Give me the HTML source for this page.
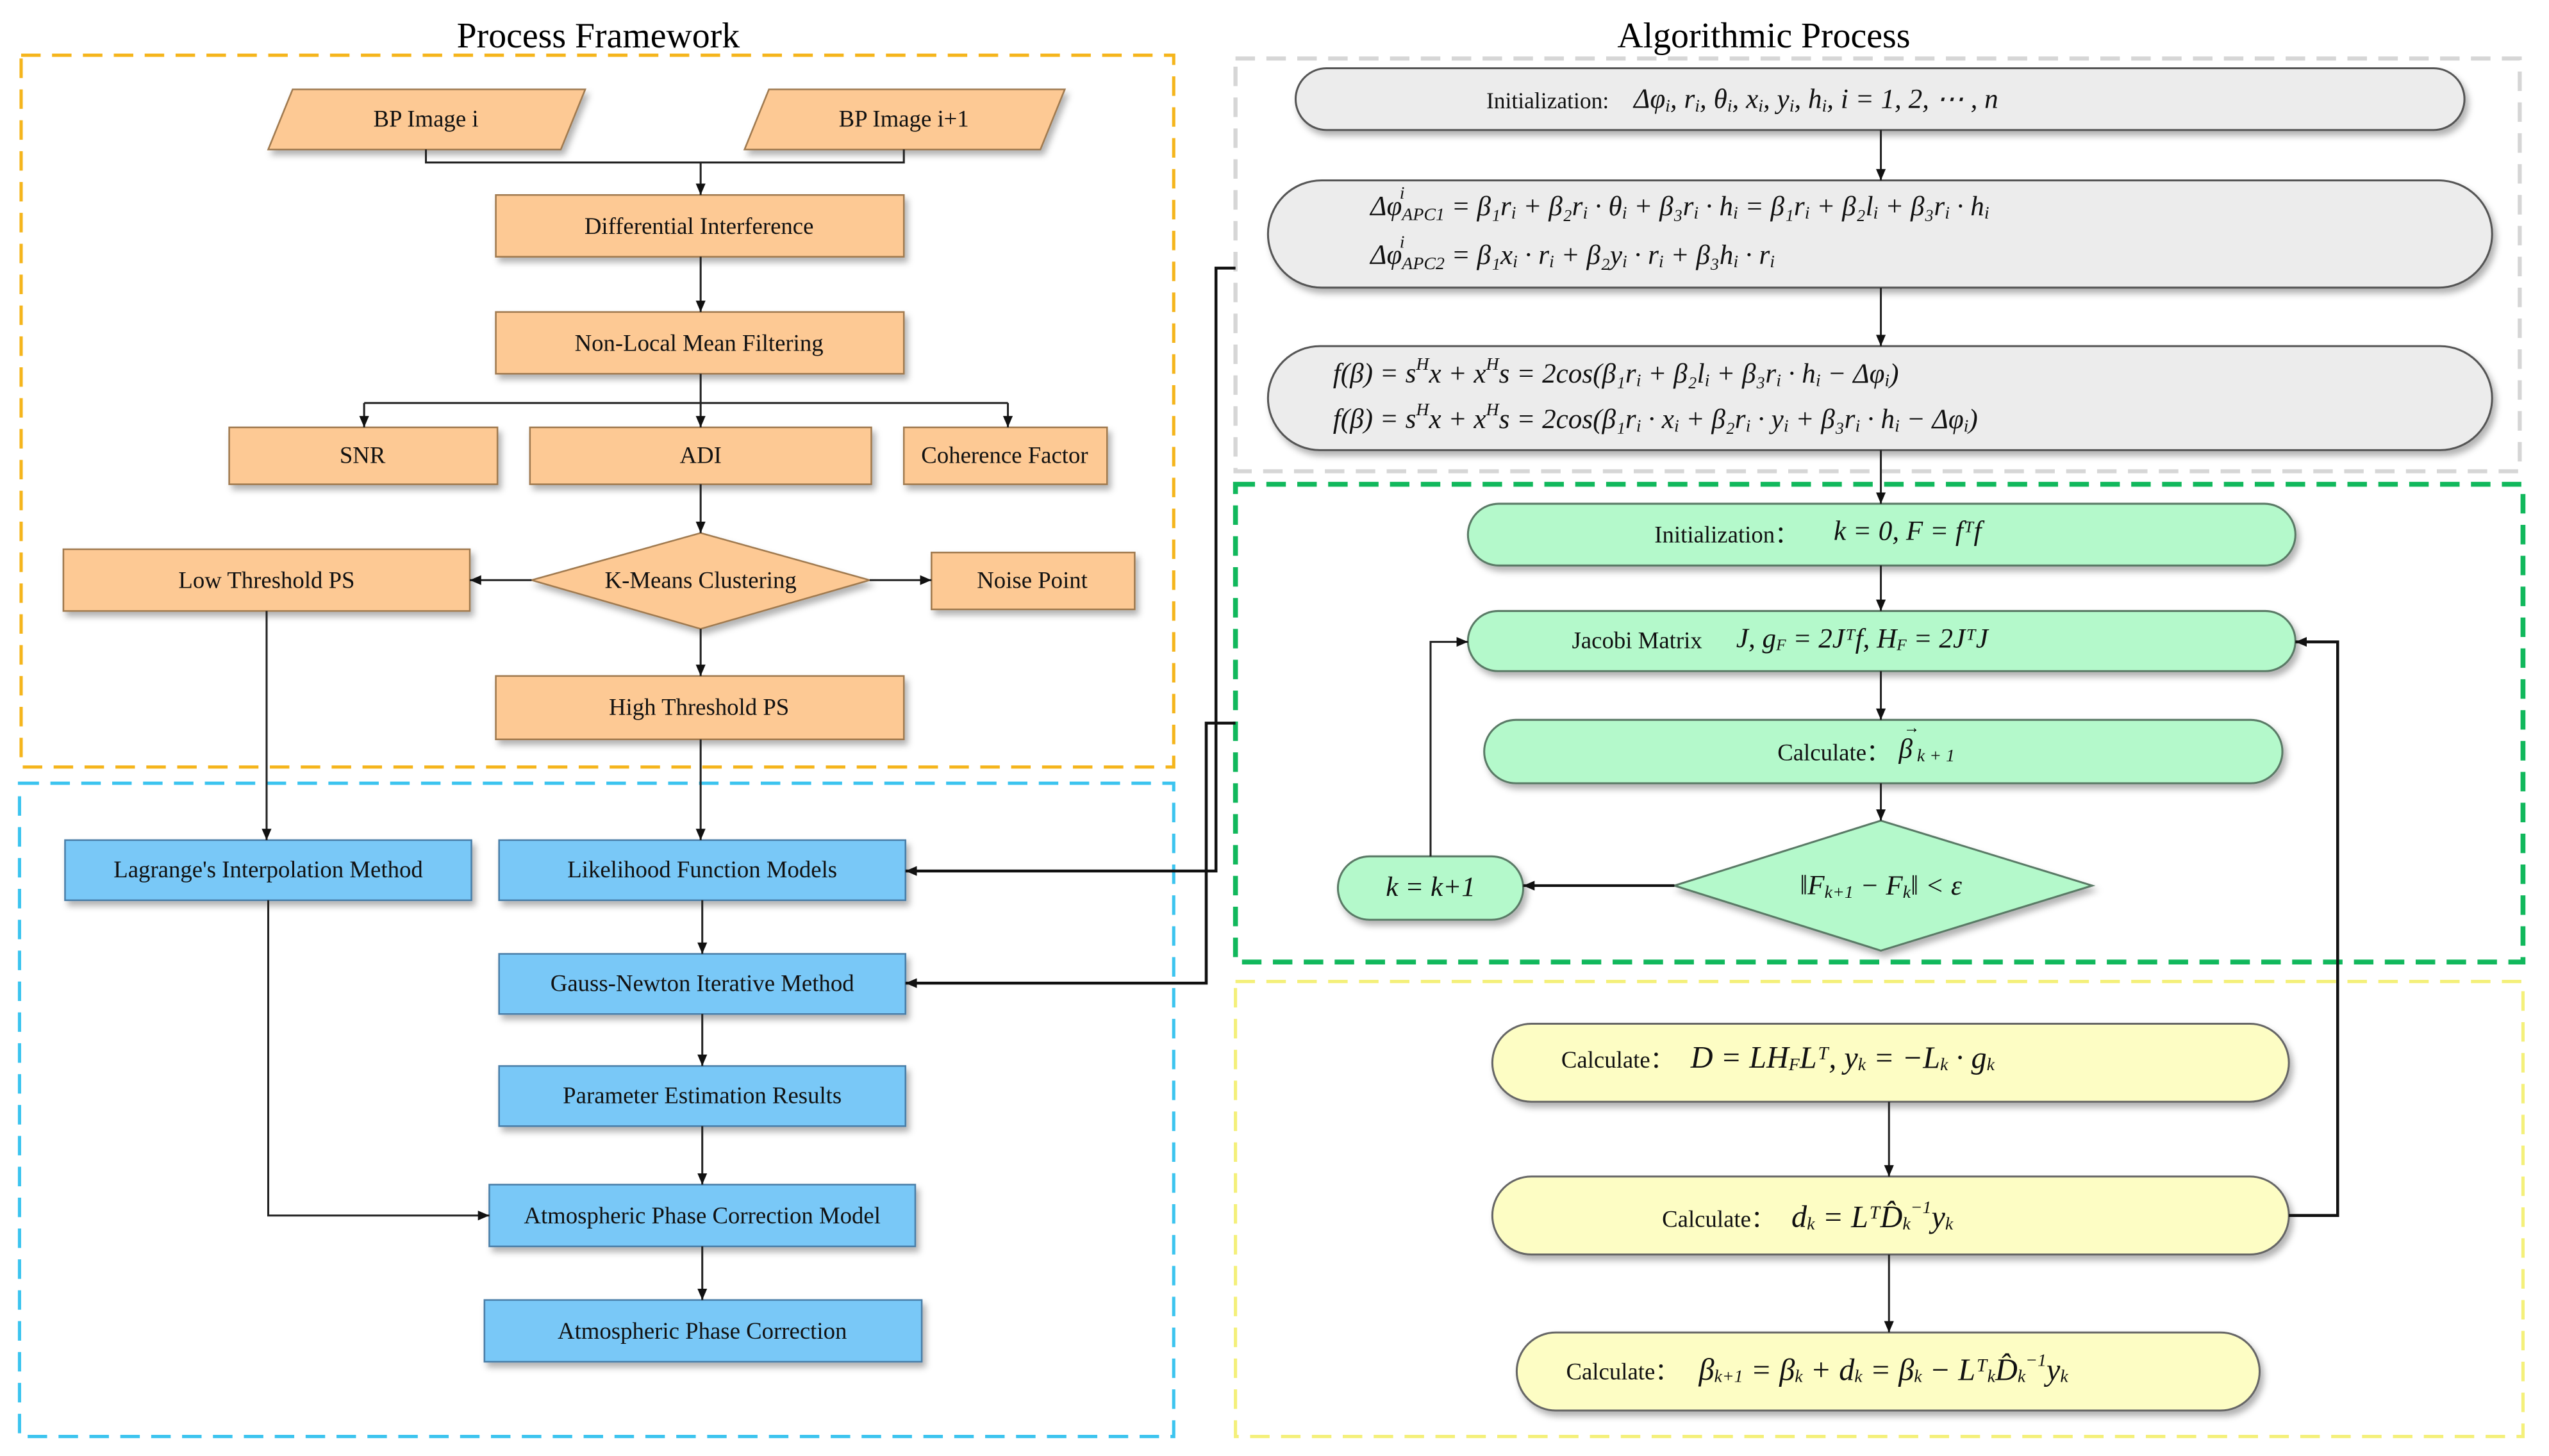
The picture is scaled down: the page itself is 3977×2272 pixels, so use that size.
<!DOCTYPE html>
<html><head><meta charset="utf-8"><style>
html,body{margin:0;padding:0;background:#fff;}
svg{display:block;}
text{font-family:"Liberation Serif",serif;}
.t{font-size:14.5px;fill:#111;text-anchor:middle;dominant-baseline:central;}
.m{font-size:17px;fill:#111;font-style:italic;dominant-baseline:central;}
.ln{stroke:#222;stroke-width:1.2;fill:none;}
</style></head><body>
<svg width="3977" height="2272" viewBox="0 0 1568 896" preserveAspectRatio="none" xmlns="http://www.w3.org/2000/svg">
<defs>
<marker id="a" markerWidth="8" markerHeight="8" refX="7" refY="4" orient="auto" markerUnits="userSpaceOnUse"><path d="M0,1 L7,4 L0,7 z" fill="#111"/></marker>
<filter id="sh" x="-5%" y="-20%" width="110%" height="150%"><feDropShadow dx="2" dy="3" stdDeviation="2" flood-color="#000" flood-opacity="0.3"/></filter>
</defs>
<rect width="1568" height="896" fill="#fff"/>
<text x="368" y="22" style="font-size:22px" text-anchor="middle" dominant-baseline="central">Process Framework</text>
<text x="1085" y="22" style="font-size:22px" text-anchor="middle" dominant-baseline="central">Algorithmic Process</text>
<rect x="13" y="34" width="709" height="438" fill="none" stroke="#f5b51c" stroke-width="2" stroke-dasharray="12,7"/>
<rect x="12" y="482" width="710" height="402" fill="none" stroke="#3cc4ef" stroke-width="2" stroke-dasharray="12,7"/>
<rect x="760" y="36" width="790" height="254" fill="none" stroke="#d6d6d6" stroke-width="2.5" stroke-dasharray="12,7"/>
<rect x="760" y="604" width="792" height="280" fill="none" stroke="#f4f07a" stroke-width="2" stroke-dasharray="12,7"/>
<rect x="760" y="298" width="792" height="294" fill="none" stroke="#11b85c" stroke-width="3" stroke-dasharray="12,7"/>

<g filter="url(#sh)" stroke="#a07a50" stroke-width="1" fill="#fdc994">
<polygon points="180,55 360,55 345,92 165,92"/>
<polygon points="473,55 655,55 640,92 458,92"/>
<rect x="305" y="120" width="251" height="38"/>
<rect x="305" y="192" width="251" height="38"/>
<rect x="141" y="263" width="165" height="35"/>
<rect x="326" y="263" width="210" height="35"/>
<rect x="556" y="263" width="125" height="35"/>
<polygon points="327,357 431,328 535,357 431,387"/>
<rect x="39" y="338" width="250" height="38"/>
<rect x="573" y="340" width="125" height="35"/>
<rect x="305" y="416" width="251" height="39"/>
</g>
<g filter="url(#sh)" stroke="#4a7ea8" stroke-width="1" fill="#79c8f7">
<rect x="40" y="517" width="250" height="37"/>
<rect x="307" y="517" width="250" height="37"/>
<rect x="307" y="587" width="250" height="37"/>
<rect x="307" y="656" width="250" height="37"/>
<rect x="301" y="729" width="262" height="38"/>
<rect x="298" y="800" width="269" height="38"/>
</g>
<text x="262" y="73" class="t">BP Image i</text>
<text x="556" y="73" class="t">BP Image i+1</text>
<text x="430" y="139" class="t">Differential Interference</text>
<text x="430" y="211" class="t">Non-Local Mean Filtering</text>
<text x="223" y="280" class="t">SNR</text>
<text x="431" y="280" class="t">ADI</text>
<text x="618" y="280" class="t">Coherence Factor</text>
<text x="431" y="357" class="t">K-Means Clustering</text>
<text x="164" y="357" class="t">Low Threshold PS</text>
<text x="635" y="357" class="t">Noise Point</text>
<text x="430" y="435" class="t">High Threshold PS</text>
<text x="165" y="535" class="t">Lagrange's Interpolation Method</text>
<text x="432" y="535" class="t">Likelihood Function Models</text>
<text x="432" y="605" class="t">Gauss-Newton Iterative Method</text>
<text x="432" y="674" class="t">Parameter Estimation Results</text>
<text x="432" y="748" class="t">Atmospheric Phase Correction Model</text>
<text x="432" y="819" class="t">Atmospheric Phase Correction</text>
<path class="ln" d="M262,92 V100 H556 V92"/>
<path class="ln" d="M431,100 V120" marker-end="url(#a)"/>
<path class="ln" d="M431,158 V192" marker-end="url(#a)"/>
<path class="ln" d="M431,230 V263" marker-end="url(#a)"/>
<path class="ln" d="M224,248 H620"/>
<path class="ln" d="M224,248 V263" marker-end="url(#a)"/>
<path class="ln" d="M620,248 V263" marker-end="url(#a)"/>
<path class="ln" d="M431,298 V328" marker-end="url(#a)"/>
<path class="ln" d="M327,357 H289" marker-end="url(#a)"/>
<path class="ln" d="M535,357 H573" marker-end="url(#a)"/>
<path class="ln" d="M431,387 V416" marker-end="url(#a)"/>
<path class="ln" d="M431,455 V517" marker-end="url(#a)"/>
<path class="ln" d="M164,376 V517" marker-end="url(#a)"/>
<path class="ln" d="M165,554 V748 H301" marker-end="url(#a)"/>
<path class="ln" d="M432,554 V587" marker-end="url(#a)"/>
<path class="ln" d="M432,624 V656" marker-end="url(#a)"/>
<path class="ln" d="M432,693 V729" marker-end="url(#a)"/>
<path class="ln" d="M432,767 V800" marker-end="url(#a)"/>
<path d="M760,165 H748 V536 H557" stroke="#111" stroke-width="1.8" fill="none" marker-end="url(#a)"/>
<path d="M760,445 H742 V605 H557" stroke="#111" stroke-width="1.8" fill="none" marker-end="url(#a)"/>

<g filter="url(#sh)" stroke="#555" stroke-width="1.2" fill="#ececec">
<rect x="797" y="42" width="719" height="38" rx="19"/>
<rect x="780" y="111" width="753" height="66" rx="33"/>
<rect x="780" y="213" width="753" height="64" rx="32"/>
</g>
<g filter="url(#sh)" stroke="#5a7a66" stroke-width="1.2" fill="#b4f9cb">
<rect x="903" y="310" width="509" height="38" rx="19"/>
<rect x="903" y="376" width="509" height="37" rx="18.5"/>
<rect x="913" y="443" width="491" height="39" rx="19.5"/>
<polygon points="1030,545 1157,505 1287,545 1157,585"/>
<rect x="823" y="527" width="114" height="39" rx="19.5"/>
</g>
<g filter="url(#sh)" stroke="#666" stroke-width="1.2" fill="#fdfdc4">
<rect x="918" y="630" width="490" height="48" rx="24"/>
<rect x="918" y="724" width="490" height="48" rx="24"/>
<rect x="933" y="820" width="457" height="48" rx="24"/>
</g>
<text x="952" y="62" class="t" style="font-size:14px">Initialization:</text>
<text x="1005" y="61" class="m">Δφ<tspan font-size="11" dy="4">i</tspan><tspan dy="-4">, r</tspan><tspan font-size="11" dy="4">i</tspan><tspan dy="-4">, θ</tspan><tspan font-size="11" dy="4">i</tspan><tspan dy="-4">, x</tspan><tspan font-size="11" dy="4">i</tspan><tspan dy="-4">, y</tspan><tspan font-size="11" dy="4">i</tspan><tspan dy="-4">, h</tspan><tspan font-size="11" dy="4">i</tspan><tspan dy="-4">, i = 1, 2, ⋯ , n</tspan></text>
<text x="843" y="127" class="m">Δφ<tspan font-size="11" dy="5">APC1</tspan><tspan dy="-5"> = β₁r</tspan><tspan font-size="11" dy="4">i</tspan><tspan dy="-4"> + β₂r</tspan><tspan font-size="11" dy="4">i</tspan><tspan dy="-4"> · θ</tspan><tspan font-size="11" dy="4">i</tspan><tspan dy="-4"> + β₃r</tspan><tspan font-size="11" dy="4">i</tspan><tspan dy="-4"> · h</tspan><tspan font-size="11" dy="4">i</tspan><tspan dy="-4"> = β₁r</tspan><tspan font-size="11" dy="4">i</tspan><tspan dy="-4"> + β₂l</tspan><tspan font-size="11" dy="4">i</tspan><tspan dy="-4"> + β₃r</tspan><tspan font-size="11" dy="4">i</tspan><tspan dy="-4"> · h</tspan><tspan font-size="11" dy="4">i</tspan></text>
<text x="861" y="119" class="m" style="font-size:11px">i</text>
<text x="843" y="157" class="m">Δφ<tspan font-size="11" dy="5">APC2</tspan><tspan dy="-5"> = β₁x</tspan><tspan font-size="11" dy="4">i</tspan><tspan dy="-4"> · r</tspan><tspan font-size="11" dy="4">i</tspan><tspan dy="-4"> + β₂y</tspan><tspan font-size="11" dy="4">i</tspan><tspan dy="-4"> · r</tspan><tspan font-size="11" dy="4">i</tspan><tspan dy="-4"> + β₃h</tspan><tspan font-size="11" dy="4">i</tspan><tspan dy="-4"> · r</tspan><tspan font-size="11" dy="4">i</tspan></text>
<text x="861" y="149" class="m" style="font-size:11px">i</text>
<text x="820" y="230" class="m">f(β) = s<tspan font-size="11" dy="-6">H</tspan><tspan dy="6">x + x</tspan><tspan font-size="11" dy="-6">H</tspan><tspan dy="6">s = 2cos(β₁r</tspan><tspan font-size="11" dy="4">i</tspan><tspan dy="-4"> + β₂l</tspan><tspan font-size="11" dy="4">i</tspan><tspan dy="-4"> + β₃r</tspan><tspan font-size="11" dy="4">i</tspan><tspan dy="-4"> · h</tspan><tspan font-size="11" dy="4">i</tspan><tspan dy="-4"> − Δφ</tspan><tspan font-size="11" dy="4">i</tspan><tspan dy="-4">)</tspan></text>
<text x="820" y="258" class="m">f(β) = s<tspan font-size="11" dy="-6">H</tspan><tspan dy="6">x + x</tspan><tspan font-size="11" dy="-6">H</tspan><tspan dy="6">s = 2cos(β₁r</tspan><tspan font-size="11" dy="4">i</tspan><tspan dy="-4"> · x</tspan><tspan font-size="11" dy="4">i</tspan><tspan dy="-4"> + β₂r</tspan><tspan font-size="11" dy="4">i</tspan><tspan dy="-4"> · y</tspan><tspan font-size="11" dy="4">i</tspan><tspan dy="-4"> + β₃r</tspan><tspan font-size="11" dy="4">i</tspan><tspan dy="-4"> · h</tspan><tspan font-size="11" dy="4">i</tspan><tspan dy="-4"> − Δφ</tspan><tspan font-size="11" dy="4">i</tspan><tspan dy="-4">)</tspan></text>
<text x="1062" y="329" class="t">Initialization：</text>
<text x="1128" y="327" class="m">k = 0, F = fᵀf</text>
<text x="1007" y="394" class="t">Jacobi Matrix</text>
<text x="1068" y="393" class="m">J, g<tspan font-size="10" dy="4">F</tspan><tspan dy="-4"> = 2Jᵀf, H</tspan><tspan font-size="10" dy="4">F</tspan><tspan dy="-4"> = 2JᵀJ</tspan></text>
<text x="1128" y="463" class="t">Calculate：</text>
<text x="1168" y="461" class="m">β<tspan font-size="11" dy="4"> k + 1</tspan></text>
<text x="1157" y="545" class="m" text-anchor="middle">‖F<tspan font-size="11" dy="4">k+1</tspan><tspan dy="-4"> − F</tspan><tspan font-size="11" dy="4">k</tspan><tspan dy="-4">‖ &lt; ε</tspan></text>
<text x="880" y="546" class="m" text-anchor="middle">k = k+1</text>
<text x="995" y="652" class="t">Calculate：</text>
<text x="1040" y="651" class="m" style="font-size:19px">D = LH<tspan font-size="11" dy="4">F</tspan><tspan dy="-4">Lᵀ, y</tspan><tspan font-size="11" dy="4">k</tspan><tspan dy="-4"> = −L</tspan><tspan font-size="11" dy="4">k</tspan><tspan dy="-4"> · g</tspan><tspan font-size="11" dy="4">k</tspan></text>
<text x="1057" y="750" class="t">Calculate：</text>
<text x="1102" y="749" class="m" style="font-size:19px">d<tspan font-size="11" dy="4">k</tspan><tspan dy="-4"> = LᵀD̂</tspan><tspan font-size="11" dy="4">k</tspan><tspan font-size="11" dy="-10">−1</tspan><tspan dy="6">y</tspan><tspan font-size="11" dy="4">k</tspan></text>
<text x="998" y="844" class="t">Calculate：</text>
<text x="1045" y="843" class="m" style="font-size:19px">β<tspan font-size="11" dy="4">k+1</tspan><tspan dy="-4"> = β</tspan><tspan font-size="11" dy="4">k</tspan><tspan dy="-4"> + d</tspan><tspan font-size="11" dy="4">k</tspan><tspan dy="-4"> = β</tspan><tspan font-size="11" dy="4">k</tspan><tspan dy="-4"> − Lᵀ</tspan><tspan font-size="11" dy="4">k</tspan><tspan dy="-4">D̂</tspan><tspan font-size="11" dy="4">k</tspan><tspan font-size="11" dy="-10">−1</tspan><tspan dy="6">y</tspan><tspan font-size="11" dy="4">k</tspan></text>
<path class="ln" d="M1157,80 V111" marker-end="url(#a)"/>
<path class="ln" d="M1157,177 V213" marker-end="url(#a)"/>
<path class="ln" d="M1157,277 V310" marker-end="url(#a)"/>
<path class="ln" d="M1157,348 V376" marker-end="url(#a)"/>
<path class="ln" d="M1157,413 V443" marker-end="url(#a)"/>
<path class="ln" d="M1157,482 V505" marker-end="url(#a)"/>
<path d="M1030,545 H937" stroke="#111" stroke-width="1.6" fill="none" marker-end="url(#a)"/>
<path class="ln" d="M880,527 V395 H903" marker-end="url(#a)"/>
<path class="ln" d="M1162,678 V724" marker-end="url(#a)"/>
<path class="ln" d="M1162,772 V820" marker-end="url(#a)"/>
<path d="M1408,748 H1438 V395 H1412" stroke="#111" stroke-width="1.8" fill="none" marker-end="url(#a)"/>
<text x="1171" y="451" style="font-size:10px">→</text>
</svg>
</body></html>
